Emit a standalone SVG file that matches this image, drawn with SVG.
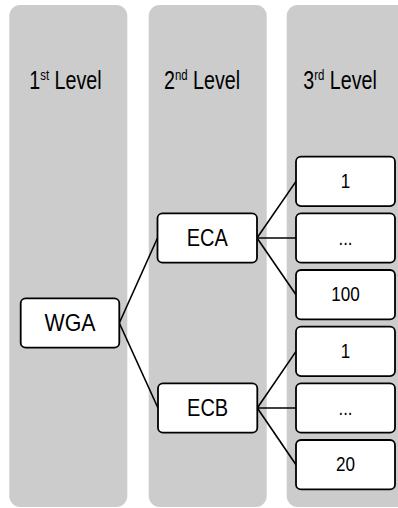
<svg xmlns="http://www.w3.org/2000/svg" width="398" height="508" viewBox="0 0 398 508">
  <style>
    .col { fill: #cccccc; }
    .box { fill: #ffffff; stroke: #000000; stroke-width: 1.8; }
    .lbl { font-family: "Liberation Sans", Arial, sans-serif; fill: #000000; text-anchor: middle; }
    .big { font-size: 24px; }
    .num { font-size: 21px; }
    .lvl { font-family: "Liberation Sans", Arial, sans-serif; font-size: 25px; fill: #000000; }
    .conn line { stroke: #000000; stroke-width: 1.6; fill: none; }
  </style>
  <rect width="398" height="508" fill="#ffffff"/>
  <g id="col1">
    <rect class="col" x="9.3" y="5" width="118" height="502" rx="11"/>
    <text class="lvl" transform="translate(29.3 89.3) scale(0.787 1)">1<tspan font-size="14.5" dy="-9">st</tspan><tspan dy="9"> Level</tspan></text>
  </g>
  <g id="col2">
    <rect class="col" x="148.7" y="5" width="118" height="502" rx="11"/>
    <text class="lvl" transform="translate(164 89.3) scale(0.787 1)">2<tspan font-size="14.5" dy="-9">nd</tspan><tspan dy="9"> Level</tspan></text>
  </g>
  <g id="col3">
    <rect class="col" x="286.7" y="5" width="130" height="502" rx="11"/>
    <text class="lvl" transform="translate(303.3 89.3) scale(0.787 1)">3<tspan font-size="14.5" dy="-9">rd</tspan><tspan dy="9"> Level</tspan></text>
  </g>
  <g id="connectors" class="conn">
    <line x1="119.3" y1="323" x2="157.5" y2="238"/>
    <line x1="119.3" y1="323" x2="158" y2="408"/>
    <line x1="257" y1="238" x2="296" y2="181.4"/>
    <line x1="257" y1="238" x2="296" y2="238"/>
    <line x1="257" y1="238" x2="296" y2="294.7"/>
    <line x1="257.3" y1="408" x2="296" y2="351.4"/>
    <line x1="257.3" y1="408" x2="296" y2="408"/>
    <line x1="257.3" y1="408" x2="296" y2="464.7"/>
  </g>
  <g id="WGA">
    <rect class="box" x="20.7" y="298.3" width="98.6" height="49.4" rx="5"/>
    <text class="lbl big" x="70" y="331.3" textLength="51" lengthAdjust="spacingAndGlyphs">WGA</text>
  </g>
  <g id="ECA">
    <rect class="box" x="157.5" y="213.3" width="99.5" height="49.4" rx="5"/>
    <text class="lbl big" x="207.3" y="246" textLength="41" lengthAdjust="spacingAndGlyphs">ECA</text>
  </g>
  <g id="ECB">
    <rect class="box" x="158" y="383.3" width="99.3" height="49.4" rx="5"/>
    <text class="lbl big" x="207.6" y="416" textLength="41" lengthAdjust="spacingAndGlyphs">ECB</text>
  </g>
  <g id="A1">
    <rect class="box" x="296" y="156.7" width="99" height="49.4" rx="5"/>
    <text class="lbl num" x="345.5" y="188" textLength="9.5" lengthAdjust="spacingAndGlyphs">1</text>
  </g>
  <g id="Adots">
    <rect class="box" x="296" y="213.3" width="99" height="49.4" rx="5"/>
    <text class="lbl num" x="345.5" y="245" textLength="14" lengthAdjust="spacingAndGlyphs">...</text>
  </g>
  <g id="A100">
    <rect class="box" x="296" y="270" width="99" height="49.4" rx="5"/>
    <text class="lbl num" x="345.5" y="301" textLength="28.5" lengthAdjust="spacingAndGlyphs">100</text>
  </g>
  <g id="B1">
    <rect class="box" x="296" y="326.7" width="99" height="49.4" rx="5"/>
    <text class="lbl num" x="345.5" y="357.7" textLength="9.5" lengthAdjust="spacingAndGlyphs">1</text>
  </g>
  <g id="Bdots">
    <rect class="box" x="296" y="383.3" width="99" height="49.4" rx="5"/>
    <text class="lbl num" x="345.5" y="415" textLength="14" lengthAdjust="spacingAndGlyphs">...</text>
  </g>
  <g id="B20">
    <rect class="box" x="296" y="440" width="99" height="49.4" rx="5"/>
    <text class="lbl num" x="345.5" y="471" textLength="19" lengthAdjust="spacingAndGlyphs">20</text>
  </g>
</svg>
